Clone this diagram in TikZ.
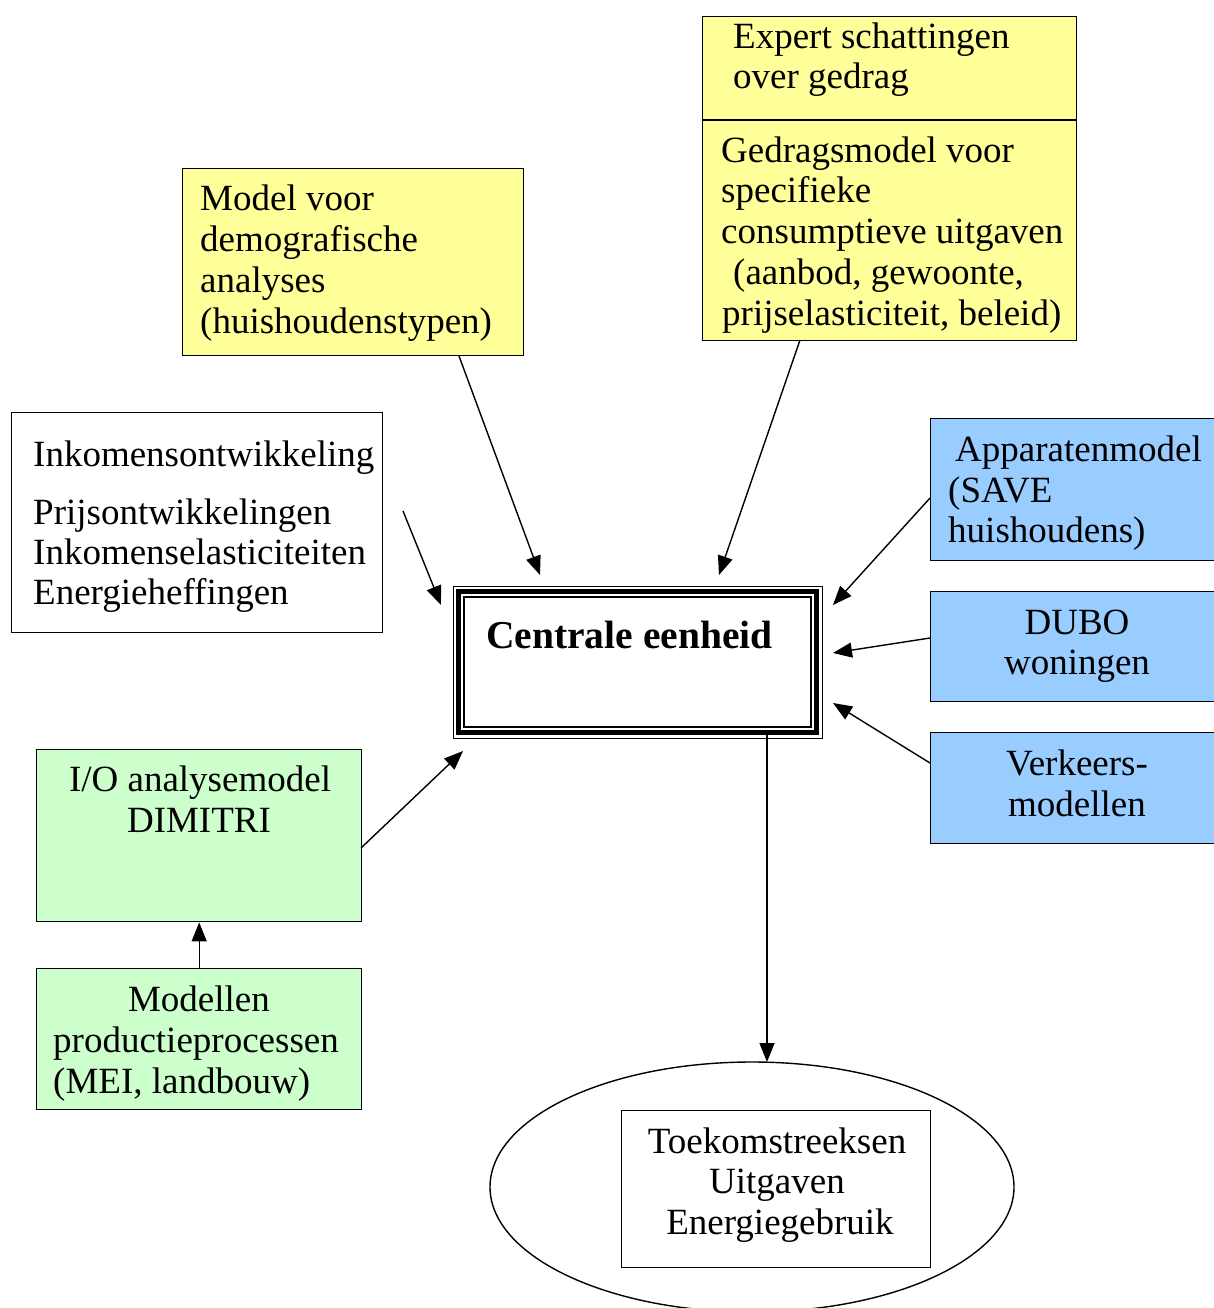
\documentclass[tikz,border=0pt]{standalone}
\usepackage{fontspec}
\setmainfont{Liberation Serif}
\usetikzlibrary{arrows.meta,shapes.geometric}

\definecolor{modelyellow}{HTML}{FFFF99}
\definecolor{modelblue}{HTML}{99CCFF}
\definecolor{modelgreen}{HTML}{CCFFCC}

\tikzset{
  box/.style={draw=black, line width=1.4pt, rectangle, inner sep=0pt,
              anchor=north west},
  txt/.style={inner sep=0pt, anchor=base west},
  ctxt/.style={inner sep=0pt, anchor=base},
  flow/.style={line width=1.4pt, -{Triangle[length=19pt,width=15pt]}},
}

\begin{document}
\begin{tikzpicture}[x=1pt, y=-1pt,
  font=\fontsize{37}{41}\selectfont]
\useasboundingbox (0,0) rectangle (1213,1308);

% --- input boxes -------------------------------------------------------
\node[box, minimum width=371pt, minimum height=220pt] (inc) at (11,412) {};
\node[txt] (inc1) at (33,466) {Inkomensontwikkeling};
\node[txt] (inc2) at (33,524) {Prijsontwikkelingen};
\node[txt] (inc3) at (33,564) {Inkomenselasticiteiten};
\node[txt] (inc4) at (33,604) {Energieheffingen};

\node[box, fill=modelyellow, minimum width=341pt, minimum height=187pt] (demo) at (182,168) {};
\node[txt] (demo1) at (200,210) {Model voor};
\node[txt] (demo2) at (200,251) {demografische};
\node[txt] (demo3) at (200,292) {analyses};
\node[txt] (demo4) at (200,333) {(huishoudenstypen)};

\node[box, fill=modelyellow, minimum width=374pt, minimum height=324pt] (beh) at (702,16) {};
\draw[line width=1.4pt] (beh.west |- 0,120) -- (beh.east |- 0,120);
\node[txt] (exp1) at (733,49) {Expert schattingen};
\node[txt] (exp2) at (733,89) {over gedrag};
\node[txt] (beh1) at (721,163) {Gedragsmodel voor};
\node[txt] (beh2) at (721,203) {specifieke};
\node[txt] (beh3) at (721,243) {consumptieve uitgaven};
\node[txt] (beh4) at (733,284) {(aanbod, gewoonte,};
\node[txt] (beh5) at (722,325) {prijselasticiteit, beleid)};

\node[box, fill=modelblue, minimum width=290pt, minimum height=142pt] (app) at (930,418) {};
\node[txt] (app1) at (955,461) {Apparatenmodel};
\node[txt] (app2) at (948,502) {(SAVE};
\node[txt] (app3) at (948,542) {huishoudens)};

\node[box, fill=modelblue, minimum width=290pt, minimum height=110pt] (dubo) at (930,591) {};
\node[ctxt] (dubo1) at (1077,634) {DUBO};
\node[ctxt] (dubo2) at (1077,674) {woningen};

\node[box, fill=modelblue, minimum width=290pt, minimum height=111pt] (verk) at (930,732) {};
\node[ctxt] (verk1) at (1077,775) {Verkeers-};
\node[ctxt] (verk2) at (1077,816) {modellen};

\node[box, fill=modelgreen, minimum width=325pt, minimum height=172pt] (io) at (36,749) {};
\node[ctxt] (io1) at (200,791) {I/O analysemodel};
\node[ctxt] (io2) at (199,832) {DIMITRI};

\node[box, fill=modelgreen, minimum width=325pt, minimum height=141pt] (prod) at (36,968) {};
\node[ctxt] (prod1) at (199,1011) {Modellen};
\node[txt] (prod2) at (53,1052) {productieprocessen};
\node[txt] (prod3) at (53,1093) {(MEI, landbouw)};

% --- central unit with triple border ------------------------------------
\node[box, line width=1.4pt, minimum width=369.5pt, minimum height=152.5pt] (core) at (452.5,585.5) {};
\draw[line width=5pt] (458,591) rectangle (816.5,732);
\draw[line width=2pt] (463.5,597) rectangle (810.5,727);
\node[txt, font=\fontsize{39.5}{44}\selectfont\bfseries] (core1) at (486,648) {Centrale eenheid};

% --- output ---------------------------------------------------------------
\node[draw, line width=1.4pt, ellipse, minimum width=524pt, minimum height=250pt,
      inner sep=0pt] (out) at (752,1187) {};
\node[box, minimum width=309pt, minimum height=157pt] (res) at (621,1110) {};
\node[ctxt] (res1) at (777,1153) {Toekomstreeksen};
\node[ctxt] (res2) at (777,1193) {Uitgaven};
\node[ctxt] (res3) at (780,1234) {Energiegebruik};

% --- connector end points ---------------------------------------------
\coordinate (incS) at (403,511);   \coordinate (incE) at (441,605);
\coordinate (demoS) at (459,356);  \coordinate (demoE) at (540,575);
\coordinate (behS) at (800,340);   \coordinate (behE) at (719,575);
\coordinate (appS) at (930,498);   \coordinate (appE) at (833,605);
\coordinate (duboS) at (930,638);  \coordinate (duboE) at (833,653);
\coordinate (verkS) at (930,763);  \coordinate (verkE) at (833,703);
\coordinate (ioS) at (361,848);    \coordinate (ioE) at (463,751);
\coordinate (coreS) at (767,733);  \coordinate (outN) at (767,1062);

% --- connectors ---------------------------------------------------------
\draw[flow] (incS) -- (incE);
\draw[flow] (demoS) -- (demoE);
\draw[flow] (behS) -- (behE);
\draw[flow] (appS) -- (appE);
\draw[flow] (duboS) -- (duboE);
\draw[flow] (verkS) -- (verkE);
\draw[flow] (ioS) -- (ioE);
\draw[flow] (prod.north) -- (io.south);
\draw[flow] (coreS) -- (outN);
\end{tikzpicture}
\end{document}
